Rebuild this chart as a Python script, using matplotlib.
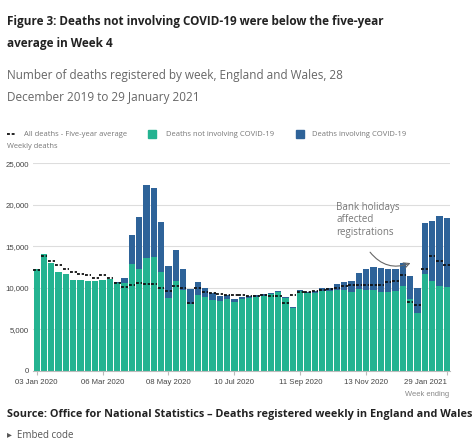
import numpy as np
import matplotlib
matplotlib.use("Agg")
import matplotlib.pyplot as plt
from matplotlib.patches import Rectangle
from matplotlib.lines import Line2D

# weekly deaths, week ending 03 Jan 2020 .. 29 Jan 2021 (57 weeks)
all_deaths = [12254, 14058, 12990, 11856, 11612, 10986, 10944, 10841, 10816, 10895,
              11019, 10645, 11141, 16387, 18516, 22351, 21997, 17953, 12657, 14573,
              12288, 9824, 10709, 9976, 9339, 8979, 9140, 8690, 8891, 9000,
              9100, 9200, 9400, 9600, 8920, 7640, 9730, 9490, 9600, 9930,
              10010, 10450, 10690, 10850, 11740, 12220, 12460, 12340, 12260, 12220,
              12950, 11460, 10010, 17770, 18045, 18650, 18440]
covid_deaths = [0, 0, 0, 0, 0, 0, 0, 0, 0, 0,
                5, 103, 539, 3475, 6213, 8758, 8237, 6035, 3930, 3810,
                2589, 1822, 1588, 1114, 783, 606, 532, 366, 295, 217,
                193, 152, 139, 138, 101, 78, 99, 139, 215, 321,
                438, 670, 978, 1379, 1937, 2466, 2697, 2900, 2730, 2580,
                2740, 2860, 3090, 6120, 7195, 8400, 8390]
five_year_avg = [12175, 13822, 13216, 12760, 12206, 11925, 11627, 11548, 11183, 11498,
                 11205, 10573, 10130, 10305, 10520, 10497, 10458, 9941, 9576, 10188,
                 9940, 8162, 10022, 9456, 9353, 9265, 9114, 9171, 9108, 9044,
                 9006, 9069, 8994, 8988, 8200, 9150, 9480, 9450, 9630, 9750,
                 9900, 10000, 10150, 10300, 10300, 10300, 10300, 10300, 10750, 10800,
                 11540, 8300, 7900, 12200, 13820, 13220, 12740]

tick_weeks = [0, 9, 18, 27, 36, 45, 56]
tick_labels = ["03 Jan 2020", "06 Mar 2020", "08 May 2020", "10 Jul 2020",
               "11 Sep 2020", "13 Nov 2020", "29 Jan 2021"]
y_ticks = [0, 5000, 10000, 15000, 20000, 25000]

TEAL = "#24b391"
BLUE = "#2e6399"
W, H = 472, 442

def fx(x):
    return x / W

def fy(y):
    return 1 - y / H

plt.rcParams['font.family'] = ['Open Sans', 'DejaVu Sans']

fig = plt.figure(figsize=(W / 100, H / 100), dpi=100)
ax = fig.add_axes([fx(33), fy(370.7), 417.4 / W, 207.4 / H])

weeks = np.arange(len(all_deaths))
covid = np.array(covid_deaths)
non_covid = np.array(all_deaths) - covid

ax.bar(weeks, non_covid, width=0.86, color=TEAL, zorder=2)
ax.bar(weeks, covid, bottom=non_covid, width=0.86, color=BLUE, zorder=2)
ax.hlines(five_year_avg, weeks - 0.45, weeks + 0.45, colors="#111111",
          linestyles=(0, (1.6, 1.0)), linewidth=1.3, zorder=3)

ax.set_xlim(-0.5, len(all_deaths) - 0.5)
ax.set_ylim(0, 25000)
ax.set_yticks(y_ticks)
ax.set_yticklabels([f"{v:,}" for v in y_ticks], family="Liberation Sans",
                   fontsize=5.6, color="#444444")
ax.set_xticks(tick_weeks)
ax.set_xticklabels(tick_labels, family="Liberation Sans", fontsize=5.6, color="#444444")
ax.get_xticklabels()[-1].set_ha("right")
ax.get_xticklabels()[-1].set_x(56.3)
ax.tick_params(axis="y", length=0, pad=3)
ax.tick_params(axis="x", length=3, color="#bbbbbb", pad=3)
ax.grid(axis="y", color="#dddddd", linewidth=0.8, zorder=0)
for s in ["top", "right", "left"]:
    ax.spines[s].set_visible(False)
ax.spines["bottom"].set_color("#bbbbbb")
ax.spines["bottom"].set_zorder(4)

# annotation
ax.text(40.9, 20300, "Bank holidays\naffected\nregistrations", fontsize=7.0,
        color="#777777", va="top", ha="left", linespacing=1.15)
ax.annotate("", xy=(51.4, 13100), xytext=(45.3, 14550),
            arrowprops=dict(arrowstyle="->", color="#666666", lw=0.8,
                            connectionstyle="arc3,rad=0.4"))

# titles
fig.text(fx(7), fy(22), "Figure 3: Deaths not involving COVID-19 were below the five-year",
         fontsize=8.5, fontweight="bold", color="#222222", va="center")
fig.text(fx(7), fy(44), "average in Week 4",
         fontsize=8.5, fontweight="bold", color="#222222", va="center")
fig.text(fx(7), fy(76), "Number of deaths registered by week, England and Wales, 28",
         fontsize=8.5, color="#666666", va="center")
fig.text(fx(7), fy(97), "December 2019 to 29 January 2021",
         fontsize=8.5, color="#666666", va="center")

# legend
fig.add_artist(Line2D([fx(7), fx(16)], [fy(134), fy(134)], color="#111111",
                      linestyle=(0, (1.6, 1.0)), linewidth=1.3))
fig.text(fx(24), fy(134), "All deaths - Five-year average", fontsize=5.5,
         color="#777777", va="center")
fig.add_artist(Rectangle((fx(148), fy(138)), 8 / W, 8 / H, color=TEAL,
                         transform=fig.transFigure))
fig.text(fx(166), fy(134), "Deaths not involving COVID-19", fontsize=5.5,
         color="#777777", va="center")
fig.add_artist(Rectangle((fx(296), fy(138)), 8 / W, 8 / H, color=BLUE,
                         transform=fig.transFigure))
fig.text(fx(312), fy(134), "Deaths involving COVID-19", fontsize=5.5,
         color="#777777", va="center")
fig.text(fx(7), fy(147), "Weekly deaths", fontsize=5.4, color="#777777", va="center")

fig.text(fx(449), fy(394), "Week ending", fontsize=5.4, color="#888888",
         va="center", ha="right", family="Liberation Sans")

fig.text(fx(7), fy(414),
         "Source: Office for National Statistics \u2013 Deaths registered weekly in England and Wales",
         fontsize=7.8, fontweight="bold", color="#222222", va="center")
fig.text(fx(7), fy(435), "\u25b8  Embed code", fontsize=7.0, color="#555555", va="center")

fig.savefig("out.png", dpi=100)
